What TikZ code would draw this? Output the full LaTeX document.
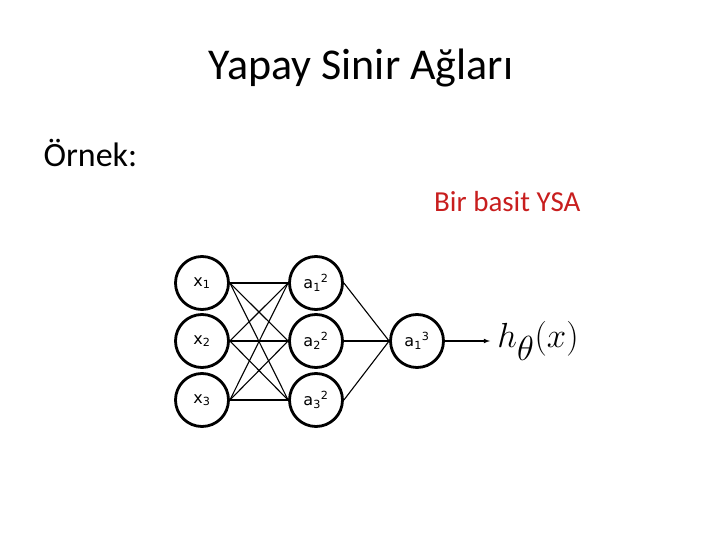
\documentclass[tikz,border=0pt]{standalone}
\usepackage{fontspec}
\setmainfont{Carlito}
\newfontfamily\nodefont{DejaVu Sans}
\begin{document}
\begin{tikzpicture}[x=1pt,y=-1pt,
  neuron/.style={circle,draw,line width=2.8pt,minimum size=53pt,inner sep=0pt,font=\nodefont\fontsize{16}{18}\selectfont},
  link/.style={line width=1.1pt}]
\useasboundingbox (0,0) rectangle (720,540);
\node (title) at (361,68) {\fontsize{44}{50}\selectfont Yapay Sinir Ağları};
\node[anchor=west] (ornek) at (40,153) {\fontsize{34}{40}\selectfont Örnek:};
\node[anchor=east,text={rgb,255:red,200;green,30;blue,30}] (ysa) at (584,202) {\fontsize{29}{34}\selectfont Bir basit YSA};
\node[neuron] (x1) at (202,283) {x\textsubscript{1}};
\node[neuron] (x2) at (202,341) {x\textsubscript{2}};
\node[neuron] (x3) at (202,400) {x\textsubscript{3}};
\node[neuron] (a1) at (316,283) {a\textsubscript{1}\textsuperscript{2}};
\node[neuron] (a2) at (316,341) {a\textsubscript{2}\textsuperscript{2}};
\node[neuron] (a3) at (316,400) {a\textsubscript{3}\textsuperscript{2}};
\node[neuron] (o) at (417,341) {a\textsubscript{1}\textsuperscript{3}};
\node[scale=1.4] (h) at (538,341) {\fontsize{40}{44}\selectfont $h_\theta(x)$};
\foreach \i in {1,2,3}{\foreach \j in {1,2,3}{\draw[link] (x\i.east) -- (a\j.west);}}
\foreach \j in {1,2,3}{\draw[link] (a\j.east) -- (o.west);}
\coordinate (tip) at (490,341);
\draw[link,-latex] (o.east) -- (tip);
\end{tikzpicture}
\end{document}
